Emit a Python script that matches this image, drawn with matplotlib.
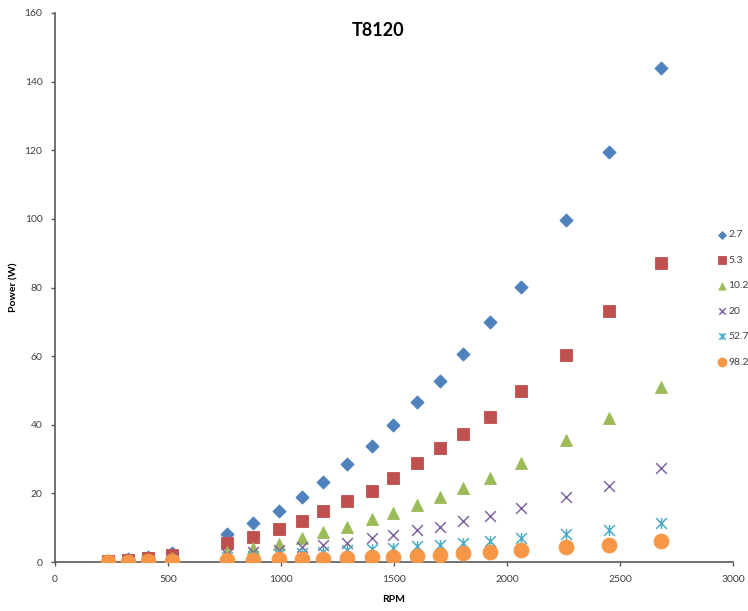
import numpy as np
import matplotlib
matplotlib.use("Agg")
import matplotlib.pyplot as plt
from matplotlib.path import Path

# measured speed (RPM) and output power (W) for each load resistance
rpm = [235, 323, 411, 518, 761, 876, 991, 1092, 1186, 1292,
       1402, 1496, 1601, 1704, 1805, 1925, 2062, 2261, 2450, 2680]

p_2_7 = [0.4, 0.8, 1.4, 2.7, 8.2, 11.3, 14.8, 18.8, 23.2, 28.6,
         33.7, 40.0, 46.5, 52.8, 60.6, 70.0, 80.2, 99.7, 119.5, 144.0]
p_5_3 = [0.3, 0.6, 1.1, 2.1, 5.5, 7.3, 9.6, 12.0, 14.9, 17.8,
         20.7, 24.5, 28.9, 33.3, 37.4, 42.2, 49.8, 60.3, 73.2, 87.1]
p_10_2 = [0.2, 0.4, 0.7, 1.3, 2.9, 4.0, 5.2, 7.0, 8.7, 10.3,
          12.4, 14.2, 16.6, 19.0, 21.5, 24.6, 28.8, 35.5, 42.0, 51.0]
p_20 = [0.1, 0.2, 0.4, 0.8, 2.4, 3.0, 3.6, 4.3, 5.0, 5.5,
        7.0, 7.9, 9.3, 10.2, 12.0, 13.4, 15.7, 19.0, 22.2, 27.4]
p_52_7 = [0.1, 0.1, 0.2, 0.4, 1.4, 1.8, 2.2, 2.6, 3.0, 3.4,
          3.8, 4.2, 4.6, 5.0, 5.5, 6.1, 7.0, 8.2, 9.3, 11.4]
p_98_2 = [0.05, 0.1, 0.15, 0.3, 0.6, 0.7, 0.8, 0.9, 1.0, 1.2,
          1.4, 1.6, 1.8, 2.1, 2.5, 3.0, 3.5, 4.4, 5.1, 6.2]

labels = ["2.7", "5.3", "10.2", "20", "52.7", "98.2"]

# Excel style "star": an X with a vertical stroke through it
star_path = Path(
    [(-1, -1), (1, 1), (-1, 1), (1, -1), (0, 1), (0, -1)],
    [Path.MOVETO, Path.LINETO, Path.MOVETO, Path.LINETO,
     Path.MOVETO, Path.LINETO])

series = [
    (p_2_7, "D", "#4F81BD", 45, True),
    (p_5_3, "s", "#C0504D", 75, True),
    (p_10_2, "^", "#9BBB59", 75, True),
    (p_20, "x", "#8064A2", 60, False),
    (p_52_7, star_path, "#4BACC6", 60, False),
    (p_98_2, "o", "#F79646", 115, True),
]

plt.rcParams['font.family'] = ['Lato', 'DejaVu Sans']

fig = plt.figure(figsize=(7.48, 6.11), dpi=100)
ax = fig.add_axes([55 / 748, 1 - 562 / 611, 678 / 748, 549 / 611])

for (vals, mk, col, size, filled), lab in zip(series, labels):
    if filled:
        ax.scatter(rpm, vals, marker=mk, s=size, color=col, edgecolors=col,
                   linewidths=0.6, label=lab, zorder=3)
    else:
        ax.scatter(rpm, vals, marker=mk, s=size, color=col, linewidths=1.1,
                   label=lab, zorder=3)

ax.set_xlim(0, 3000)
ax.set_ylim(0, 160)
ax.set_xticks(np.arange(0, 3001, 500))
ax.set_yticks(np.arange(0, 161, 20))

for side in ["top", "right"]:
    ax.spines[side].set_visible(False)
for side in ["left", "bottom"]:
    ax.spines[side].set_color("#595959")
    ax.spines[side].set_linewidth(1.2)
ax.spines["left"].set_zorder(5)
ax.tick_params(direction="out", length=3, width=1, color="#595959",
               labelsize=7.5, labelcolor="#404040", pad=6)

ax.set_xlabel("RPM", fontsize=7.5, fontweight="bold", labelpad=8)
ax.set_ylabel("Power (W)", fontsize=7.5, fontweight="bold")
ax.yaxis.set_label_coords(-37 / 678, 0.5)

fig.text(378 / 748, 1 - 30 / 611, "T8120", fontsize=13, fontweight="bold",
         ha="center", va="center")

fig.legend(loc="upper left", bbox_to_anchor=(712 / 748, 1 - 226 / 611),
           frameon=False, fontsize=7.5, handletextpad=0.0, labelspacing=1.55,
           markerscale=0.6, borderaxespad=0, handlelength=1.2,
           labelcolor="#404040")

fig.savefig("out.png", dpi=100)
